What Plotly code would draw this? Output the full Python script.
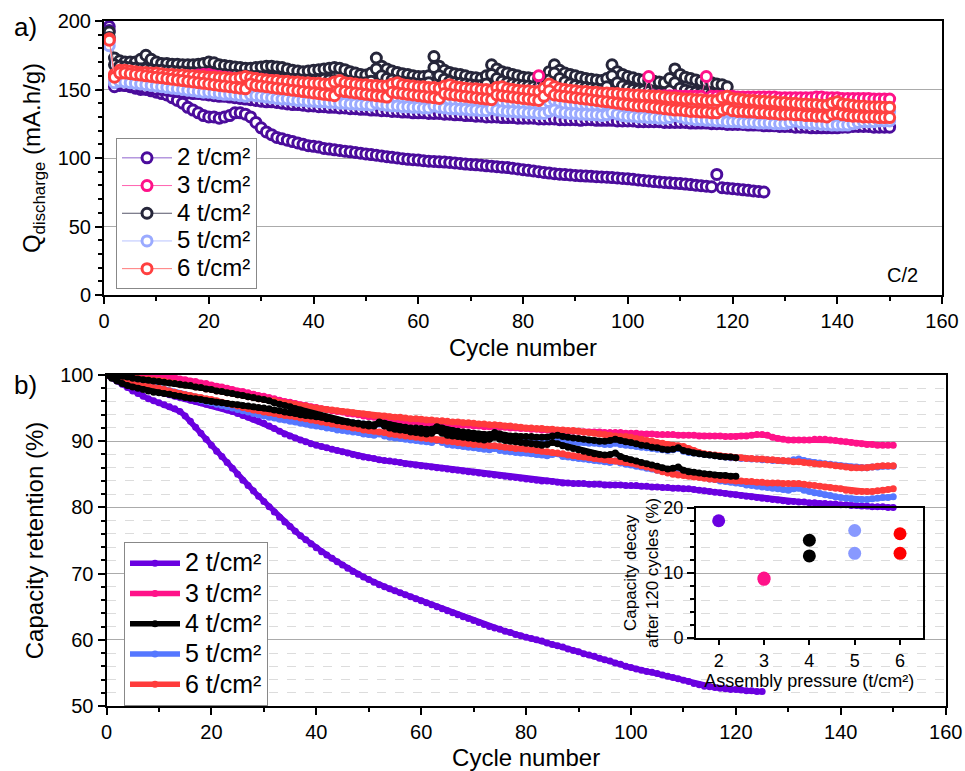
import plotly.graph_objects as go

# ---------------- Panel a: discharge capacity (mA.h/g), cycles start at 1 ----------------
A2a = [196,155,153,153,152,151,150,150,149,148,
       147,146,144,142,140,137,135,133,131,130,
       130,129,130,131,133,133,132,130,126,122,
       119,117,115,114,113,112,111,110,109,108.5,
       108,107,106.5,106,105.5,105,104.5,104,103.5,103,
       102.5,102,101.5,101,100.5,100,99.5,99,98.8,98.5,
       98,97.7,97.5,97.2,97,96.7,96.4,96,95.6,95.3,
       95,94.7,94.3,94,93.7,93.3,93,92.5,92,91.5,
       91,90.5,90,89.5,89,88.5,88.2,87.9,87.6,87.3,
       87,86.8,86.6,86.4,86.2,86,85.7,85.4,85.1,84.8,
       84.4,84,83.6,83.2,82.8,82.5,82.2,81.9,81.6,81.3,
       81,80.6,80.2,79.8,79.4,79,88,78.3,78,77.6,
       77.2,76.8,76.4,76,75.6,75.2]
A2b = [193,152,154,153,153,152,152,151,151,150,
       150,149.5,149,148.5,148,147.5,147,147,146.5,146,
       145.5,145,145,144.5,144,143.5,143,142.5,142,141.5,
       141,141,140.5,140,139.5,139,139,138.5,138,138,
       137.5,137.5,137,137,136.5,136.5,136,136,135.5,135.5,
       135,135,134.5,134.5,134,134,133.5,133.5,133,133,
       133,132.5,132.5,132.5,132,132,131.5,131.5,131,131,
       130.5,130.5,130,130,130,129.5,129.5,129.5,129,129,
       129,129,128.5,128.5,128.5,128.5,128,128,128,128,
       127.5,128,128,127.5,127.5,127.5,127.5,127,127,127,
       127,126.5,126.5,126.5,126.5,126.5,126,126,126,126,
       126,125.5,125.5,125.5,125.5,125,125,125,124.5,124.5,
       124.5,124.5,124,124,124,123.5,123.5,123.5,123,123,
       123,122.5,122.5,122.5,122,122,122,122,122,122,
       122.5,122.5,123,123,123,123,122.5,122.5,122.5,122.5]
A3 = [186,160,163,163,162.5,162,162,161.5,161.5,161,
      161,160.5,160.5,160,160,160,160,160.5,161,161,
      160,159.5,159,158.5,158,158,157.5,158,158,157.5,
      157,156.5,156,155.5,155.5,155,155,154.5,154,154,
      153.5,153.5,153,153,152.5,152.5,152,152,151.5,151.5,
      151,152,151.5,151,150.5,150.5,150,150,150,149.5,
      149.5,149.5,150,149.5,149,149,149,148.5,148.5,148.5,
      148,148,148,148.5,148,148,147.5,147.5,147.5,147.5,
      147,147,160,147,147,147.5,147,147,146.5,146.5,
      146.5,146.5,146.5,146,146,146,146,146,146,146,
      145.5,145.5,145.5,159.5,145.5,145.5,145.5,145.5,145.5,145,
      145,145,145,145,159.5,145,145,145,145,145,
      144.5,144.5,144.5,144.5,144.5,144.5,144.5,144.5,144,144,
      144,144,144,144,144,144.5,144.5,144,144,144,
      143.5,143.5,143.5,143.5,143.5,143.5,143,143,143,143]
A4a = [192,173,171,170,170,170,172,175,172,170,
       169,169,168.5,168.5,168,168,168,168.5,169,170,
       169.5,168,167.5,167,166.5,166,165.5,165.5,166,166.5,
       167,167,166.5,166,165,164,163.5,163,163.5,164,
       164.5,165,165.5,166,165.5,164.5,163,162,161,160.5,
       162,173,167,165,163.5,162.5,161.5,161,160,159.5,
       159.5,160,174,167,164,162.5,161.5,161,160,159,
       158.5,158,160,168,165,163,162,161,160,159,
       158.5,158,157.5,158,163,168,164,162,161,160,
       159,158,157.5,157,156.5,158,168,163,161,159.5,
       158.5,157.5,157,156.5,156,155.5,155,158,165,161,
       159,158,157,156,155.5,155,154,153.5,152]
A4b = [188,168,167,166.5,166,165.5,165,165,164.5,164,
       164,163.5,163.5,163,163,162.5,162.5,162,162,161.5,
       161.5,161,161,160.5,160.5,160,160,159.5,159.5,159,
       159,158.5,158.5,158,158,157.5,157.5,157,157,156.5,
       157,157.5,157,156.5,156,156,155.5,155.5,155,155,
       156,165,160,158,157,156,155.5,155,154.5,154,
       154,155,166,160,157.5,156,155,154.5,154,153.5,
       153,153,154,161,158,156,155,154,153.5,153,
       152.5,152,151.5,152,157,162,158,155.5,154,153,
       152,151.5,151,150.5,150,152,160,155,152.5,151,
       150,149.5,149,148.5,148,147.5,147,149,155,151,
       149.5,148.5,148,147.5,147,146.5,146,145.5,145]
A5a = [185,157,158,158,157.5,157,156.5,156,156,155.5,
       155,155,154.5,154,154,153.5,153,153,152.5,152,
       152,151.5,151,151,150.5,150,150,149.5,149,149,
       148.5,148.5,148,148,147.5,147.5,147,147,146.5,146.5,
       146,146,145.5,145.5,145,145,145,144.5,144.5,144.5,
       144,147,145,144,143.5,143.5,143,143,143,142.5,
       142.5,142.5,145,143.5,142.5,142,142,142,141.5,141.5,
       141.5,141,141,143,142,141,140.5,140.5,140.5,140,
       140,140,139.5,139.5,141,142,140,139.5,139.5,139,
       139,139,138.5,138.5,138.5,139,140,139,138.5,138,
       138,138,137.5,137.5,137.5,137,137,137.5,139,138,
       137,136.5,136.5,136,136,136,135.5,135.5,135.5,135,
       135,135,134.5,134.5,134.5,134.5,134,134,134,134,
       135,136,135.5,135,134.5,134.5,134,134,133.5,133.5,
       133,133,134,135,135,134.5,134.5,134,134,134]
A5b = [182,155,156,155.5,155,154.5,154,153.5,153,152.5,
       152,151.5,151,150.5,150,149.5,149,148.5,148,148,
       147.5,147,146.5,146.5,146,145.5,145,146,145.5,145,
       144.5,144,143.5,143,143,142.5,142,142,141.5,141.5,
       141,141,140.5,140.5,140,140,139.5,139.5,139,139,
       138.5,140,139,138.5,138,138,137.5,137.5,137,137,
       136.5,136.5,138,137,136.5,136,136,135.5,135.5,135,
       135,134.5,134.5,136,135,134.5,134,134,133.5,133.5,
       133,133,132.5,132.5,134,135,133.5,133,132.5,132.5,
       132,132,131.5,131.5,131,131.5,133,132,131,130.5,
       130.5,130,130,129.5,129.5,129,129,129.5,131,130,
       129,128.5,128,128,127.5,127.5,127,127,126.5,126.5,
       126.5,126,126,126,125.5,125.5,125.5,125,125,125,
       126,127,126,125.5,125,125,124.5,124.5,124,124,
       124,124,125,126,126.5,126.5,126.5,127,127,127]
A6a = [187,161,164,164,163.5,163,162.5,162.5,162,162,
       161.5,161,161,160.5,160.5,160,160,159.5,159.5,159,
       159,158.5,158.5,158,158,158.5,159.5,158.5,158,157.5,
       157,156.5,156.5,156,156,155.5,155.5,155,155,154.5,
       154.5,154,154,155.5,156.5,155,154.5,154,153.5,153.5,
       153,153,152.5,152.5,154,155,153.5,153,152.5,152,
       152,151.5,151.5,151,152.5,153.5,152,151.5,151,150.5,
       150.5,150,150,149.5,151.5,152,150.5,150,149.5,149,
       149,148.5,148.5,151,154,152,150.5,150,149.5,149,
       148.5,148.5,148,148,147.5,147.5,147,147,146.5,146.5,
       146,146,145.5,145.5,145,145,144.5,144,144,143.5,
       143,143,142.5,142.5,142,142,142,144,145,143.5,
       143,142.5,142,142,141.5,141.5,141,141,140.5,140.5,
       140,140,139.5,139.5,139,139,138.5,138.5,140,141,
       139.5,139,138.5,138,138,137.5,137.5,137.5,137,137]
A6b = [186,159,162,162,161.5,161,160.5,160,159.5,159,
       158.5,158,157.5,157,156.5,156,155.5,155,154.5,154,
       153.5,153,152.5,152,151.5,151,150.5,154,153,152.5,
       152,151.5,151,150.5,150,149.5,149,148.5,148,147.5,
       147,146.5,146,145.5,149,148.5,148,147.5,147,146.5,
       146,145.5,145,144.5,148,147.5,147,146.5,146,145.5,
       145,144.5,144,143.5,147,146.5,146,145.5,145,144.5,
       144,143.5,143,142.5,146,145.5,145,144.5,144,143.5,
       143,142.5,142,145,149,146,145.5,145,144.5,144,
       143.5,143,142.5,142,141.5,141,140.5,140,139.5,139,
       138.5,138,138,137.5,137,136.5,136,135.5,135,135,
       134.5,134,134,133.5,133.5,133,133,135,136,134.5,
       134,134,133.5,133.5,133,133,132.5,132.5,132,132,
       132,131.5,131.5,131,131,130.5,130.5,130,132,132.5,
       131.5,131,130.5,130.5,130,130,130,129.5,129.5,129.5]

# ---------------- Panel b: capacity retention (%), cycles start at 0 ----------------
B2a = [100,99.6,99.1,98.6,98.1,97.6,97.2,96.8,96.4,96.1,
       95.8,95.5,95.2,94.9,94.5,93.8,93.0,92.1,91.2,90.3,
       89.4,88.5,87.7,86.8,85.9,85.0,84.1,83.3,82.5,81.7,
       80.9,80.1,79.3,78.5,77.8,77.1,76.4,75.7,75.1,74.5,
       73.9,73.3,72.8,72.3,71.8,71.3,70.8,70.3,69.9,69.5,
       69.1,68.7,68.3,68.0,67.7,67.4,67.1,66.8,66.5,66.2,
       65.9,65.6,65.3,65.0,64.7,64.4,64.1,63.8,63.5,63.2,
       62.9,62.6,62.3,62.0,61.8,61.6,61.3,61.1,60.8,60.6,
       60.4,60.2,60.0,59.8,59.5,59.3,59.1,58.9,58.6,58.4,
       58.2,57.9,57.7,57.5,57.2,57.0,56.8,56.5,56.3,56.0,
       55.8,55.6,55.4,55.2,55.1,54.9,54.7,54.5,54.3,54.1,
       53.9,53.7,53.4,53.2,53.0,52.9,52.8,52.7,52.6,52.5,
       52.5,52.4,52.3,52.3,52.2,52.2]
B2b = [100,99.7,99.4,99.1,98.8,98.5,98.3,98.0,97.8,97.6,
       97.4,97.2,97.0,96.8,96.6,96.4,96.2,96.0,95.8,95.6,
       95.4,95.2,95.0,94.7,94.5,94.2,93.9,93.6,93.3,93.0,
       92.7,92.3,91.9,91.5,91.1,90.8,90.5,90.2,89.9,89.6,
       89.4,89.2,89.0,88.8,88.6,88.4,88.2,88.0,87.8,87.6,
       87.5,87.4,87.2,87.1,87.0,86.9,86.8,86.6,86.5,86.4,
       86.3,86.2,86.1,86.0,85.9,85.8,85.7,85.6,85.5,85.4,
       85.3,85.2,85.1,85.0,84.9,84.8,84.7,84.6,84.5,84.4,
       84.3,84.2,84.1,84.0,84.0,83.9,83.8,83.7,83.7,83.6,
       83.6,83.6,83.5,83.5,83.5,83.4,83.4,83.4,83.4,83.3,
       83.3,83.3,83.2,83.2,83.1,83.1,83.0,83.0,82.9,82.9,
       82.8,82.8,82.7,82.6,82.5,82.4,82.3,82.2,82.1,82.0,
       81.9,81.8,81.7,81.6,81.5,81.4,81.3,81.2,81.1,81.0,
       80.9,80.9,80.8,80.8,80.7,80.7,80.6,80.6,80.5,80.5,
       80.4,80.4,80.3,80.3,80.2,80.2,80.1,80.1,80.1,80.0,80.0]
B3 = [100,100,100,100,100,100,100,100,100,100,
      99.9,99.8,99.7,99.6,99.4,99.3,99.1,99.0,98.8,98.7,
      98.5,98.3,98.2,98.0,97.8,97.6,97.5,97.3,97.1,96.9,
      96.8,96.6,96.4,96.2,96.0,95.9,95.7,95.5,95.4,95.2,
      95.1,94.9,94.8,94.6,94.5,94.4,94.2,94.1,94.0,93.8,
      93.7,93.6,93.5,93.4,93.3,93.2,93.1,93.0,92.9,92.9,
      92.8,92.7,92.7,92.6,92.6,92.5,92.5,92.4,92.4,92.4,
      92.3,92.3,92.2,92.2,92.2,92.1,92.1,92.0,92.0,91.9,
      91.9,91.8,91.8,91.7,91.7,91.6,91.6,91.6,91.5,91.5,
      91.5,91.4,91.4,91.4,91.4,91.3,91.3,91.3,91.3,91.2,
      91.2,91.2,91.1,91.1,91.1,91.0,91.0,91.0,91.0,90.9,
      90.9,90.9,90.9,90.8,90.8,90.8,90.8,90.8,90.7,90.7,
      90.7,90.8,90.8,90.9,91.0,91.0,90.9,90.6,90.4,90.3,
      90.2,90.2,90.2,90.2,90.2,90.3,90.3,90.3,90.2,90.1,
      90.0,89.9,89.8,89.7,89.6,89.5,89.5,89.4,89.4,89.4,89.4]
B4a = [100,100,99.9,99.8,99.7,99.5,99.4,99.3,99.2,99.1,
       99.0,98.9,98.8,98.7,98.6,98.5,98.4,98.2,98.1,97.9,
       97.8,97.6,97.5,97.3,97.2,97.0,96.9,96.7,96.6,96.4,
       96.3,96.1,95.8,95.6,95.4,95.2,94.9,94.7,94.4,94.2,
       94.0,93.8,93.6,93.4,93.2,93.0,92.9,92.8,92.7,92.6,
       92.6,92.5,92.9,92.7,92.5,92.3,92.2,92.1,92.0,92.0,
       91.9,91.8,91.8,92.2,92.0,91.7,91.6,91.5,91.4,91.3,
       91.2,91.1,91.0,91.0,91.3,91.1,90.9,90.8,90.8,90.7,
       90.7,90.7,90.6,90.6,90.6,90.8,90.9,90.7,90.6,90.5,
       90.4,90.3,90.2,90.1,90.0,90.0,90.1,90.3,90.1,89.9,
       89.8,89.6,89.4,89.3,89.1,89.0,88.8,88.7,88.8,89.0,
       88.6,88.4,88.2,88.1,88.0,87.9,87.8,87.7,87.6,87.6,87.5]
B4b = [100,99.5,99.1,98.7,98.4,98.2,98.0,97.8,97.6,97.4,
       97.3,97.2,97.1,96.9,96.8,96.6,96.5,96.4,96.3,96.1,
       96.0,95.9,95.8,95.7,95.6,95.5,95.4,95.3,95.2,95.1,
       95.0,94.9,94.7,94.6,94.4,94.3,94.2,94.0,93.9,93.8,
       93.7,93.6,93.4,93.3,93.1,93.0,92.9,92.7,92.6,92.4,
       92.3,92.3,92.7,92.3,92.0,91.8,91.7,91.6,91.4,91.3,
       91.2,91.1,91.2,91.6,91.2,90.9,90.8,90.7,90.6,90.5,
       90.4,90.3,90.2,90.3,90.6,90.3,90.1,90.0,89.9,89.8,
       89.7,89.6,89.5,89.4,89.5,89.8,89.6,89.3,89.1,88.9,
       88.7,88.5,88.3,88.1,88.0,87.9,88.0,88.2,87.7,87.4,
       87.2,87.0,86.8,86.6,86.4,86.2,86.0,85.8,85.9,86.1,
       85.6,85.4,85.3,85.2,85.1,85.0,84.9,84.8,84.8,84.7,84.7]
B5a = [100,99.8,99.6,99.4,99.2,99.0,98.8,98.6,98.4,98.2,
       98.0,97.8,97.6,97.4,97.2,97.0,96.8,96.6,96.4,96.2,
       96.0,95.9,95.7,95.6,95.4,95.3,95.2,95.1,94.9,94.8,
       94.7,94.6,94.5,94.4,94.3,94.2,94.1,94.0,93.9,93.8,
       93.7,93.6,93.4,93.3,93.1,93.0,92.9,92.8,92.7,92.6,
       92.5,92.4,92.6,92.3,92.1,92.0,91.9,91.8,91.7,91.7,
       91.6,91.5,91.5,91.8,91.5,91.2,91.2,91.1,91.1,91.0,
       91.0,90.9,90.9,90.8,91.0,90.7,90.6,90.5,90.4,90.3,
       90.2,90.2,90.1,90.1,90.0,90.2,90.3,90.0,89.9,89.9,
       89.8,89.8,89.7,89.7,89.6,89.5,89.5,89.7,89.5,89.4,
       89.3,89.2,89.1,89.0,88.9,88.8,88.7,88.6,88.7,88.9,
       88.5,88.3,88.2,88.1,88.0,87.9,87.8,87.7,87.6,87.5,
       87.5,87.4,87.4,87.3,87.3,87.2,87.2,87.1,87.1,87.0,
       87.0,87.2,87.3,87.1,86.9,86.8,86.7,86.6,86.5,86.4,
       86.3,86.2,86.1,86.1,86.0,86.0,86.1,86.1,86.2,86.2,86.2]
B5b = [100,99.7,99.5,99.2,99.0,98.8,98.6,98.4,98.2,98.0,
       97.8,97.6,97.4,97.2,97.0,96.8,96.6,96.4,96.2,96.0,
       95.8,95.6,95.4,95.2,95.0,94.8,94.6,94.4,94.2,94.0,
       93.8,93.6,93.5,93.3,93.2,93.0,92.9,92.7,92.6,92.4,
       92.3,92.2,92.0,91.9,91.7,91.6,91.5,91.4,91.3,91.1,
       91.0,90.9,91.1,90.8,90.6,90.5,90.4,90.3,90.2,90.1,
       90.0,89.9,89.8,90.1,89.8,89.5,89.4,89.3,89.2,89.1,
       89.0,88.9,88.8,88.7,88.9,88.6,88.5,88.4,88.3,88.2,
       88.2,88.1,88.0,87.9,87.8,88.0,88.1,87.7,87.6,87.5,
       87.4,87.3,87.2,87.1,87.0,86.9,86.8,87.0,86.7,86.5,
       86.4,86.2,86.1,85.9,85.8,85.6,85.5,85.3,85.4,85.6,
       85.1,84.9,84.8,84.6,84.5,84.3,84.2,84.0,83.9,83.8,
       83.7,83.6,83.4,83.3,83.2,83.1,83.0,82.9,82.8,82.7,
       82.6,82.8,82.9,82.6,82.4,82.2,82.1,81.9,81.8,81.6,
       81.5,81.4,81.3,81.2,81.2,81.2,81.3,81.4,81.5,81.5,81.6]
B6a = [100,99.9,99.8,99.8,99.7,99.6,99.5,99.4,99.4,99.3,
       99.2,99.1,98.9,98.8,98.6,98.5,98.4,98.2,98.1,97.9,
       97.8,97.6,97.5,97.3,97.2,97.0,96.9,96.7,96.6,96.4,
       96.3,96.2,96.1,95.9,95.8,95.7,95.6,95.4,95.3,95.1,
       95.0,94.9,94.8,94.7,94.6,94.5,94.4,94.3,94.2,94.1,
       94.0,93.9,93.8,93.8,93.7,93.6,93.6,93.5,93.4,93.4,
       93.3,93.2,93.2,93.1,93.1,93.0,92.9,92.9,92.8,92.8,
       92.7,92.6,92.6,92.5,92.5,92.4,92.3,92.3,92.2,92.1,
       92.0,92.0,91.9,91.9,91.8,91.8,91.7,91.7,91.6,91.6,
       91.5,91.4,91.3,91.2,91.1,91.0,90.9,90.8,90.7,90.7,
       90.6,90.4,90.3,90.1,90.0,89.8,89.7,89.5,89.4,89.3,
       89.2,88.9,88.6,88.3,88.1,88.0,87.9,87.8,87.7,87.6,
       87.5,87.5,87.4,87.4,87.3,87.3,87.2,87.2,87.1,87.1,
       87.0,86.9,86.9,86.8,86.7,86.6,86.5,86.5,86.4,86.3,
       86.2,86.1,86.0,86.0,86.0,86.0,86.1,86.2,86.3,86.3,86.3]
B6b = [100,99.7,99.4,99.1,98.8,98.6,98.5,98.4,98.3,98.1,
       98.0,97.8,97.6,97.4,97.2,97.0,96.9,96.7,96.6,96.4,
       96.3,96.1,95.9,95.7,95.5,95.3,95.1,94.9,94.7,94.6,
       94.4,94.3,94.2,94.0,93.9,93.8,93.7,93.5,93.4,93.2,
       93.1,92.9,92.8,92.6,92.5,92.3,92.2,92.0,91.9,91.7,
       91.6,91.5,91.4,91.3,91.1,91.0,90.9,90.8,90.7,90.6,
       90.5,90.4,90.3,90.2,90.1,90.0,89.9,89.8,89.7,89.6,
       89.5,89.5,89.4,89.3,89.3,89.2,89.1,89.0,88.9,88.9,
       88.8,88.7,88.6,88.5,88.4,88.3,88.2,88.1,87.9,87.8,
       87.7,87.6,87.5,87.4,87.3,87.2,87.1,87.0,86.9,86.8,
       86.7,86.5,86.3,86.1,85.9,85.6,85.4,85.2,85.0,84.9,
       84.8,84.7,84.6,84.5,84.4,84.3,84.2,84.2,84.1,84.1,
       84.0,84.0,83.9,83.9,83.8,83.8,83.7,83.7,83.7,83.6,
       83.6,83.6,83.6,83.5,83.4,83.3,83.2,83.1,83.0,82.9,
       82.8,82.6,82.5,82.4,82.4,82.4,82.4,82.5,82.6,82.7,82.8]

# ---------------- Inset: capacity decay after 120 cycles (%) ----------------
INSET_P2 = [2];    INSET_D2 = [18.0]
INSET_P3 = [3, 3]; INSET_D3 = [9.2, 9.0]
INSET_P4 = [4, 4]; INSET_D4 = [15.0, 12.6]
INSET_P5 = [5, 5]; INSET_D5 = [16.5, 13.0]
INSET_P6 = [6, 6]; INSET_D6 = [16.0, 13.0]

NAMES = ["2 t/cm²", "3 t/cm²", "4 t/cm²", "5 t/cm²", "6 t/cm²"]
X_TICKS = [0, 20, 40, 60, 80, 100, 120, 140, 160]

FONT = "Liberation Sans, Arial, Helvetica, sans-serif"
W, H = 965, 771

# colours
A_EDGE = {"2": "#4B0C9C", "3": "#FF1289", "4": "#26263A", "5": "#9AAAFF", "6": "#FF4040"}
A_LINE = {"2": "#8F62CF", "3": "#FF62B0", "4": "#55556A", "5": "#B8C3FF", "6": "#FF7A7A"}
B_COL = {"2": "#6A00E0", "3": "#FF1289", "4": "#000000", "5": "#5577FF", "6": "#FF3B3B"}
I_COL = {"2": "#6A00E0", "3": "#FF1289", "4": "#000000", "5": "#8899FF", "6": "#FF0000"}

fig = go.Figure()


def legend_label(name, size):
    return '<span style="font-size:%dpx">%s</span>' % (size, name)


def add_a(y, key, name, show, rank):
    fig.add_trace(go.Scatter(
        x=list(range(1, len(y) + 1)), y=y, mode="lines+markers",
        name=legend_label(name, 24),
        line=dict(color=A_LINE[key], width=1),
        marker=dict(symbol="circle", size=10, color="white",
                    line=dict(color=A_EDGE[key], width=3)),
        showlegend=show, legend="legend", legendrank=rank,
        xaxis="x", yaxis="y"))


def add_b(y, key, name, show, rank):
    fig.add_trace(go.Scatter(
        x=list(range(0, len(y))), y=y, mode="lines+markers",
        name=legend_label(name, 25),
        line=dict(color=B_COL[key], width=5.5),
        marker=dict(symbol="circle", size=7, color=B_COL[key]),
        showlegend=show, legend="legend2", legendrank=rank,
        xaxis="x2", yaxis="y2"))


# Panel a (red drawn last, on top)
add_a(A2a, "2", NAMES[0], True, 1)
add_a(A2b, "2", NAMES[0], False, 1)
add_a(A4a, "4", NAMES[2], True, 3)
add_a(A4b, "4", NAMES[2], False, 3)
add_a(A3, "3", NAMES[1], True, 2)
add_a(A5a, "5", NAMES[3], True, 4)
add_a(A5b, "5", NAMES[3], False, 4)
add_a(A6a, "6", NAMES[4], True, 5)
add_a(A6b, "6", NAMES[4], False, 5)

# Panel b (black drawn last, on top)
add_b(B2a, "2", NAMES[0], True, 1)
add_b(B2b, "2", NAMES[0], False, 1)
add_b(B3, "3", NAMES[1], True, 2)
add_b(B5a, "5", NAMES[3], True, 4)
add_b(B5b, "5", NAMES[3], False, 4)
add_b(B6a, "6", NAMES[4], True, 5)
add_b(B6b, "6", NAMES[4], False, 5)
add_b(B4a, "4", NAMES[2], True, 3)
add_b(B4b, "4", NAMES[2], False, 3)

# Inset
for px, dv, key in [(INSET_P2, INSET_D2, "2"), (INSET_P3, INSET_D3, "3"),
                    (INSET_P4, INSET_D4, "4"), (INSET_P5, INSET_D5, "5"),
                    (INSET_P6, INSET_D6, "6")]:
    fig.add_trace(go.Scatter(x=px, y=dv, mode="markers",
                             marker=dict(size=13, color=I_COL[key]),
                             showlegend=False, xaxis="x3", yaxis="y3"))


def px_x(p):
    return p / W


def px_y(p):
    return 1 - p / H


axis_common = dict(showline=True, linecolor="black", linewidth=2, mirror=True,
                   ticks="outside", tickcolor="black", tickwidth=1.5, ticklen=7,
                   zeroline=False, automargin=False, ticklabeloverflow="allow",
                   tickfont=dict(size=20, color="black", family=FONT))

fig.update_layout(
    width=W, height=H, margin=dict(l=0, r=0, t=0, b=0, autoexpand=False),
    paper_bgcolor="white", plot_bgcolor="rgba(0,0,0,0)",
    font=dict(family=FONT, color="black"),
    xaxis=dict(domain=[px_x(104), px_x(942)], range=[0, 160], anchor="y",
               tickmode="array", tickvals=X_TICKS, showgrid=False,
               minor=dict(tickvals=[10, 30, 50, 70, 90, 110, 130, 150], ticks="outside",
                          ticklen=4, tickwidth=1.5, tickcolor="black"),
               title=dict(text="Cycle number", font=dict(size=24), standoff=8),
               **axis_common),
    yaxis=dict(domain=[px_y(295), px_y(21)], range=[0, 200], anchor="x",
               tickmode="array", tickvals=[0, 50, 100, 150, 200],
               showgrid=True, gridcolor="#ababab", gridwidth=1,
               minor=dict(dtick=10, ticks="outside", ticklen=4, tickwidth=1.5,
                          tickcolor="black", showgrid=False),
               title=dict(text="Q<sub>discharge</sub> (mA.h/g)", font=dict(size=24), standoff=10),
               **axis_common),
    xaxis2=dict(domain=[px_x(106.5), px_x(945.7)], range=[0, 160], anchor="y2",
                tickmode="array", tickvals=X_TICKS, showgrid=False,
                minor=dict(tickvals=[10, 30, 50, 70, 90, 110, 130, 150], ticks="outside",
                           ticklen=4, tickwidth=1.5, tickcolor="black"),
                title=dict(text="Cycle number", font=dict(size=24), standoff=8),
                **axis_common),
    yaxis2=dict(domain=[px_y(706), px_y(375)], range=[50, 100], anchor="x2",
                tickmode="array", tickvals=[50, 60, 70, 80, 90, 100],
                showgrid=True, gridcolor="#ababab", gridwidth=1,
                minor=dict(dtick=2, ticks="outside", ticklen=4, tickwidth=1.5,
                           tickcolor="black", showgrid=True, gridcolor="#dcdcdc",
                           griddash="dash", gridwidth=1),
                title=dict(text="Capacity retention (%)", font=dict(size=24), standoff=10),
                **axis_common),
    xaxis3=dict(domain=[px_x(696), px_x(922.7)], range=[1.5, 6.5], anchor="y3",
                tickmode="array", tickvals=[2, 3, 4, 5, 6], showgrid=False,
                showline=True, linecolor="black", linewidth=2, mirror=True,
                ticks="outside", tickcolor="black", tickwidth=1.5, ticklen=5, zeroline=False,
                automargin=False,
                tickfont=dict(size=18, color="black", family=FONT),
                title=dict(text="Assembly pressure (t/cm²)", font=dict(size=18), standoff=0)),
    yaxis3=dict(domain=[px_y(638), px_y(507.7)], range=[0, 20], anchor="x3",
                tickmode="array", tickvals=[0, 10, 20], showgrid=False,
                minor=dict(dtick=2, ticks="outside", ticklen=4, tickwidth=1.5, tickcolor="black"),
                showline=True, linecolor="black", linewidth=2, mirror=True,
                ticks="outside", tickcolor="black", tickwidth=1.5, ticklen=7, zeroline=False,
                automargin=False,
                tickfont=dict(size=18, color="black", family=FONT),
                title=dict(text="Capacity decay<br>after 120 cycles (%)", font=dict(size=17), standoff=0)),
    legend=dict(x=px_x(116), y=px_y(138), xanchor="left", yanchor="top",
                bgcolor="white", bordercolor="#888888", borderwidth=1,
                font=dict(size=19, family=FONT), itemwidth=50, tracegroupgap=0,
                traceorder="normal"),
    legend2=dict(x=px_x(124), y=px_y(542), xanchor="left", yanchor="top",
                 bgcolor="white", bordercolor="#888888", borderwidth=1,
                 font=dict(size=21, family=FONT), itemwidth=50, tracegroupgap=0,
                 traceorder="normal"),
    annotations=[
        dict(text="a)", x=px_x(12), y=px_y(27), xref="paper", yref="paper",
             xanchor="left", yanchor="middle", showarrow=False, font=dict(size=26)),
        dict(text="b)", x=px_x(12), y=px_y(385), xref="paper", yref="paper",
             xanchor="left", yanchor="middle", showarrow=False, font=dict(size=26)),
        dict(text="C/2", x=px_x(902), y=px_y(275), xref="paper", yref="paper",
             xanchor="center", yanchor="middle", showarrow=False, font=dict(size=20)),
    ],
)

# the page's default 8 px body margin is removed so the 965x771 figure fills the window
fig.write_html("out.html", config={"displayModeBar": False},
               post_script="document.body.style.margin = '0px';")
